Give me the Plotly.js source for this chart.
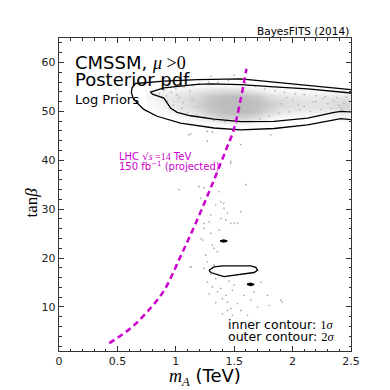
<!DOCTYPE html>
<html>
<head>
<meta charset="utf-8">
<script src="https://cdn.plot.ly/plotly-3.0.1.min.js"></script>
<style>
  html, body { margin: 0; padding: 0; background: white; }
  #chart { width: 390px; height: 390px; }
</style>
</head>
<body>
<div id="chart"></div>
<script>

// posterior density of the sample cloud (0..1)
const cloudX = [ 0.8, 0.9, 1.0, 1.1, 1.2, 1.3, 1.4, 1.5, 1.6, 1.7, 1.8, 1.9, 2.0, 2.1, 2.2, 2.3, 2.4, 2.5 ];
const cloudY = [ 47, 48, 49, 50, 51, 52, 53, 54, 55, 56 ];
const cloudZ = [
    [ 0, 0, 0, 0, 0, 0, 0.05, 0.05, 0.05, 0, 0, 0, 0, 0, 0, 0, 0, 0 ],
    [ 0, 0, 0, 0, 0.05, 0.15, 0.3, 0.35, 0.3, 0.15, 0.05, 0, 0, 0, 0, 0, 0, 0 ],
    [ 0, 0, 0.05, 0.15, 0.3, 0.5, 0.7, 0.75, 0.7, 0.5, 0.25, 0.1, 0.05, 0.05, 0.05, 0.05, 0.1, 0.1 ],
    [ 0, 0.1, 0.2, 0.3, 0.5, 0.8, 0.95, 1, 1, 0.85, 0.55, 0.35, 0.3, 0.25, 0.25, 0.25, 0.3, 0.35 ],
    [ 0.05, 0.2, 0.3, 0.45, 0.65, 0.9, 1, 1, 1, 0.95, 0.7, 0.5, 0.45, 0.4, 0.4, 0.4, 0.55, 0.65 ],
    [ 0.1, 0.25, 0.4, 0.5, 0.7, 0.9, 1, 1, 1, 0.95, 0.7, 0.55, 0.45, 0.4, 0.4, 0.4, 0.5, 0.6 ],
    [ 0.15, 0.3, 0.4, 0.5, 0.6, 0.8, 0.95, 1, 0.95, 0.8, 0.5, 0.4, 0.35, 0.3, 0.3, 0.3, 0.35, 0.4 ],
    [ 0.1, 0.2, 0.25, 0.3, 0.4, 0.5, 0.6, 0.6, 0.5, 0.35, 0.2, 0.15, 0.1, 0.1, 0.1, 0.1, 0.1, 0.1 ],
    [ 0, 0.05, 0.05, 0.1, 0.1, 0.15, 0.15, 0.15, 0.1, 0.05, 0.05, 0, 0, 0, 0, 0, 0, 0 ],
    [ 0, 0, 0, 0, 0, 0, 0, 0, 0, 0, 0, 0, 0, 0, 0, 0, 0, 0 ]
];

// loose samples around the edge of the cloud
const fringeMA = [ 0.86, 0.9, 0.93, 0.96, 0.98, 1.0, 1.03, 1.05, 1.07, 1.1, 1.12, 1.15, 1.18, 1.2, 1.25, 1.28, 1.33, 1.36, 1.42, 1.45, 1.52, 1.6, 1.63, 1.68, 1.72, 1.76, 1.8, 1.85, 1.88, 1.93, 1.97, 2.02, 2.06, 2.1, 2.15, 2.2, 2.24, 2.28, 2.33, 2.38, 2.42, 2.46, 1.9, 2.0, 2.1, 2.2, 2.3, 2.35, 1.3, 1.5, 1.1, 0.95,
    0.88, 0.92, 1.01, 1.06, 1.14, 1.19, 1.95, 2.05, 2.17, 2.26, 2.4, 2.44 ];
const fringeTB = [ 53.6, 54.3, 52.2, 53.9, 51.3, 54.6, 52.8, 50.6, 55.0, 49.8, 54.2, 55.3, 49.3, 55.6, 48.8, 56.0, 48.2, 55.9, 47.9, 56.3, 47.6, 55.8, 48.0, 55.2, 48.5, 54.6, 49.0, 54.2, 49.6, 53.9, 49.9, 53.6, 50.3, 53.4, 50.0, 53.2, 50.4, 53.0, 50.6, 52.8, 50.5, 52.9, 51.5, 52.4, 51.0, 52.0, 51.6, 52.2, 57.2, 57.4, 56.5, 55.6,
    52.9, 53.2, 53.4, 51.8, 52.5, 50.9, 52.8, 51.4, 51.9, 52.6, 51.2, 51.7 ];

// sparse samples at low tan beta
const sparseMA = [ 1.213, 1.242, 1.285, 1.299, 1.313, 1.356, 1.256, 1.270, 1.328, 1.299, 1.342, 1.270, 1.313, 1.356, 1.385, 1.399, 1.428, 1.442, 1.471, 1.399, 1.485, 1.528, 1.557, 1.585, 1.642, 1.700, 1.800, 1.785, 1.499, 1.456, 1.328, 1.371, 1.428, 1.242, 1.127, 1.285, 1.342, 1.485, 1.671, 1.728, 1.900, 1.614, 1.442,
    1.127, 1.270, 1.313, 1.814, 1.556, 1.270, 1.471, 1.199, 1.242, 1.599, 1.370, 1.213, 1.342, 1.385, 1.413, 1.442, 1.213, 1.299, 1.385, 1.471, 1.528, 1.242, 1.556, 1.11, 1.03, 1.47, 1.41, 1.50, 1.23, 1.13, 1.91 ];
const sparseTB = [ 24.0, 26.1, 27.4, 25.05, 22.65, 21.3, 20.6, 19.2, 18.6, 16.8, 15.8, 15.1, 14.1, 13.1, 13.8, 11.7, 12.4, 11.0, 9.7, 8.6, 8.3, 10.7, 9.3, 12.4, 11.4, 10.0, 10.3, 12.4, 14.5, 15.3, 22.0, 25.7, 27.8, 17.9, 18.2, 12.7, 10.9, 13.4, 13.1, 15.1, 11.4, 8.3, 9.3,
    45.4, 45.9, 45.8, 45.2, 43.2, 43.9, 39.8, 34.6, 34.4, 35.0, 33.6, 32.2, 30.9, 31.5, 30.2, 29.2, 29.5, 28.8, 28.1, 27.1, 27.1, 27.1, 29.5, 45.2, 34.0, 39.4, 31.2, 27.2, 23.7, 18.2, 11.0 ];

// 2 sigma contour (open at the right edge)
const outerMA = [ 2.5, 2.128, 1.842, 1.556, 1.184, 0.898, 0.655, 0.625, 0.62, 0.635, 0.67, 0.726, 0.84, 1.04, 1.327, 1.556, 1.842, 2.128, 2.357, 2.414, 2.5 ];
const outerTB = [ 54.46, 55.28, 55.96, 56.65, 56.5, 56.2, 55.7, 54.8, 53.8, 52.7, 51.7, 50.4, 49.0, 47.6, 46.6, 46.2, 46.5, 47.25, 48.25, 48.5, 48.3 ];

// 1 sigma contour
const innerMA = [ 2.5, 2.128, 1.842, 1.556, 1.3, 1.184, 0.898, 0.784, 0.80, 0.898, 0.927, 0.955, 1.012, 1.127, 1.327, 1.556, 1.842, 2.128, 2.357, 2.414, 2.5 ];
const innerTB = [ 53.75, 54.6, 55.0, 55.45, 55.6, 55.5, 54.8, 53.95, 53.5, 52.7, 51.7, 50.7, 49.8, 49.1, 48.4, 47.9, 47.96, 48.6, 49.8, 50.0, 49.9 ];

// 1 sigma island and two tiny islands
const islandMA = [ 1.284, 1.327, 1.40, 1.642, 1.685, 1.70, 1.67, 1.556, 1.413, 1.37, 1.30, 1.284 ];
const islandTB = [ 17.5, 18.2, 18.4, 18.4, 18.1, 17.5, 17.05, 16.65, 16.2, 16.5, 17.05, 17.5 ];
const blobAMA = [ 1.38, 1.41, 1.44, 1.41, 1.38 ];
const blobATB = [ 23.5, 23.7, 23.5, 23.3, 23.5 ];
const blobBMA = [ 1.61, 1.64, 1.67, 1.64, 1.61 ];
const blobBTB = [ 14.65, 14.85, 14.6, 14.4, 14.65 ];

// projected LHC 14 TeV reach
const lhcMA = [ 0.43, 0.61, 0.755, 0.90, 1.04, 1.17, 1.31, 1.436, 1.50, 1.605 ];
const lhcTB = [ 2.6, 5.6, 9.0, 13.4, 20.3, 27.1, 35.0, 42.5, 46.6, 58.7 ];

const serif = 'Liberation Serif, DejaVu Serif, serif';
const sans = 'DejaVu Sans, sans-serif';
const magenta = '#cc00cc';

function contour( x, y, extra ) {

    return Object.assign( {
        type: 'scatter',
        mode: 'lines',
        x: x,
        y: y,
        line: { color: 'black', width: 1.3 },
        hoverinfo: 'skip'
    }, extra || {} );

}

const data = [
    {
        type: 'heatmap',
        x: cloudX,
        y: cloudY,
        z: cloudZ,
        zmin: 0,
        zmax: 1,
        zsmooth: 'best',
        colorscale: [ [ 0, '#ffffff' ], [ 0.5, '#dcdcdc' ], [ 1, '#bdbdbd' ] ],
        showscale: false,
        hoverinfo: 'skip'
    },
    {
        type: 'scatter',
        mode: 'markers',
        x: fringeMA,
        y: fringeTB,
        marker: { color: '#b8b8b8', size: 1.8 },
        hoverinfo: 'skip'
    },
    {
        type: 'scatter',
        mode: 'markers',
        x: sparseMA,
        y: sparseTB,
        marker: { color: '#a8a8a8', size: 1.7 },
        hoverinfo: 'skip'
    },
    contour( outerMA, outerTB ),
    contour( innerMA, innerTB ),
    contour( islandMA, islandTB ),
    contour( blobAMA, blobATB, { fill: 'toself', fillcolor: 'black', line: { color: 'black', width: 1.5 } } ),
    contour( blobBMA, blobBTB, { fill: 'toself', fillcolor: 'black', line: { color: 'black', width: 1.5 } } ),
    {
        type: 'scatter',
        mode: 'lines',
        x: lhcMA,
        y: lhcTB,
        line: { color: magenta, width: 2.5, dash: '6px,4px', shape: 'spline', smoothing: 1 },
        hoverinfo: 'skip'
    }
];

const axisBase = {
    showline: true,
    linecolor: '#333',
    linewidth: 1.2,
    mirror: 'ticks',
    ticks: 'inside',
    ticklen: 5,
    tickwidth: 1,
    tickcolor: '#333',
    showgrid: false,
    zeroline: false,
    tickfont: { family: sans, size: 11, color: '#222' }
};

function note( text, x, y, size, extra ) {

    return Object.assign( {
        xref: 'paper',
        yref: 'paper',
        x: x,
        y: y,
        text: text,
        showarrow: false,
        xanchor: 'left',
        yanchor: 'middle',
        font: { family: sans, size: size, color: 'black' }
    }, extra || {} );

}

const layout = {
    width: 390,
    height: 390,
    margin: { l: 59, r: 39, t: 38, b: 39 },
    paper_bgcolor: 'white',
    plot_bgcolor: 'white',
    showlegend: false,
    font: { family: sans, size: 11, color: '#222' },
    xaxis: Object.assign( {}, axisBase, {
        range: [ 0, 2.5 ],
        tick0: 0,
        dtick: 0.5,
        minor: { dtick: 0.1, ticks: 'inside', ticklen: 2.5, tickcolor: '#333' }
    } ),
    yaxis: Object.assign( {}, axisBase, {
        range: [ 1, 65 ],
        tick0: 0,
        dtick: 10,
        minor: { dtick: 2, ticks: 'inside', ticklen: 2.5, tickcolor: '#333' }
    } ),
    annotations: [
        note( 'BayesFITS (2014)', 1.0, 1.022, 10.5, { xanchor: 'right' } ),
        note( 'CMSSM, <span style="font-family:Liberation Serif"><i>μ</i> &gt;0</span>', 0.047, 0.923, 18 ),
        note( 'Posterior pdf', 0.047, 0.866, 18 ),
        note( 'Log Priors', 0.047, 0.805, 13 ),
        note( 'LHC √<span style="font-family:Liberation Serif"><i>s</i> =14</span> TeV', 0.2, 0.62, 10, { font: { family: sans, size: 10, color: magenta } } ),
        note( '150 fb<sup>−1</sup> (projected)', 0.2, 0.592, 10, { font: { family: sans, size: 10, color: magenta } } ),
        note( 'inner contour: <span style="font-family:Liberation Serif">1<i>σ</i></span>', 0.572, 0.0844, 12.5 ),
        note( 'outer contour: <span style="font-family:Liberation Serif">2<i>σ</i></span>', 0.572, 0.0448, 12.5 ),
        note( '<span style="font-family:Liberation Serif"><i>m</i><sub><i>A</i></sub></span> (TeV)', 0.5, -0.084, 18, { xanchor: 'center' } ),
        note( 'tan<i>β</i>', -0.093, 0.474, 17, { xanchor: 'center', textangle: -90, font: { family: serif, size: 17, color: 'black' } } )
    ]
};

Plotly.newPlot( 'chart', data, layout, { displayModeBar: false, staticPlot: true } );

</script>
</body>
</html>
